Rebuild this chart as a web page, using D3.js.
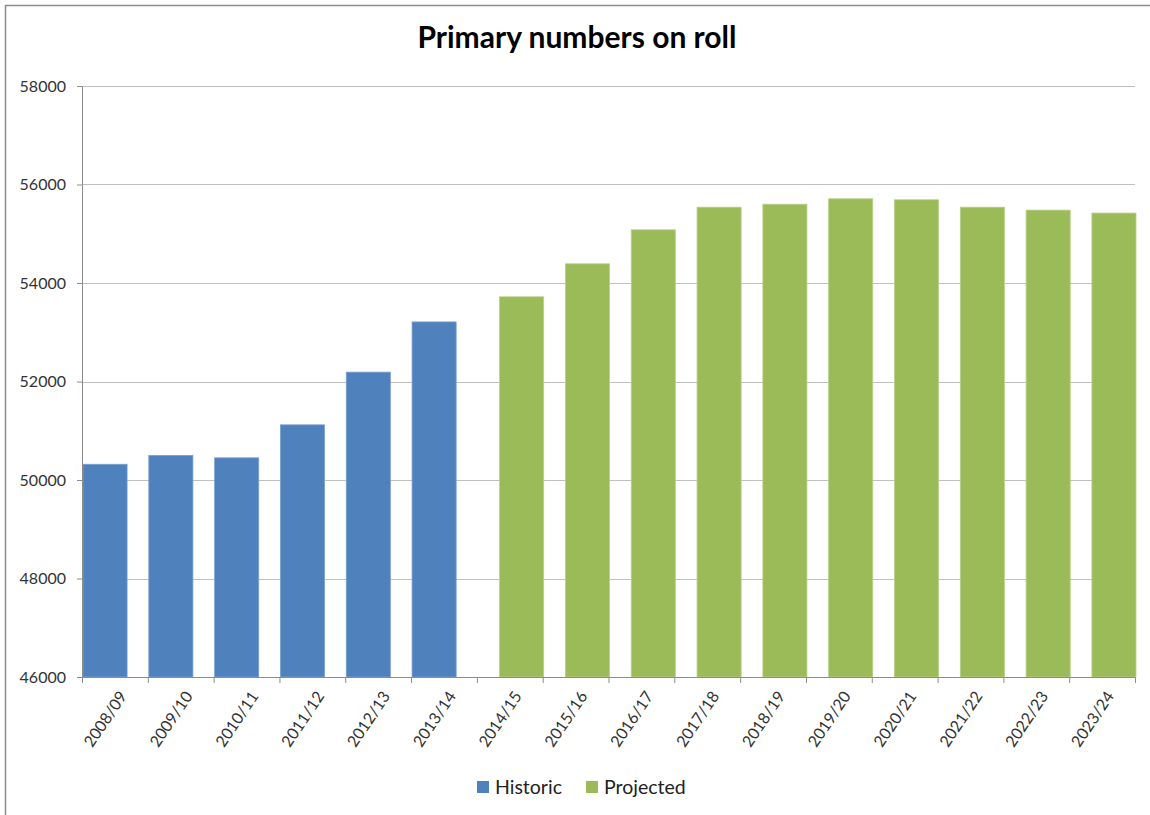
<!DOCTYPE html>
<html>
<head>
<meta charset="utf-8">
<script src="https://cdn.jsdelivr.net/npm/d3@7"></script>
<style>
  body { margin: 0; background: #fff; }
  text { font-family: Lato, "Open Sans", sans-serif; fill: #333; }
</style>
</head>
<body>
<div id="chart"></div>
<script>
// data
var years = ["2008/09", "2009/10", "2010/11", "2011/12", "2012/13", "2013/14",
  "2014/15", "2015/16", "2016/17", "2017/18", "2018/19", "2019/20",
  "2020/21", "2021/22", "2022/23", "2023/24"];
var historic = [50320, 50500, 50450, 51120, 52190, 53210,
  null, null, null, null, null, null, null, null, null, null];
var projected = [null, null, null, null, null, null,
  53720, 54390, 55080, 55540, 55600, 55710, 55690, 55540, 55480, 55420];
var yTicks = [46000, 48000, 50000, 52000, 54000, 56000, 58000];
var seriesNames = ["Historic", "Projected"];
var colors = ["#4f81bd", "#9bbb59"];

var width = 1150, height = 815;
var margin = { top: 86, right: 15, bottom: 138, left: 82 };
var innerWidth = width - margin.left - margin.right;
var innerHeight = height - margin.top - margin.bottom;

var svg = d3.select("#chart").append("svg")
  .attr("width", width)
  .attr("height", height);

// outer frame (only left and top visible in the crop)
svg.append("path")
  .attr("d", "M5.5,815 L5.5,5.5 L1150,5.5")
  .attr("fill", "none")
  .attr("stroke", "#8c8c8c")
  .attr("stroke-width", 1.5);

svg.append("text")
  .attr("x", 577)
  .attr("y", 48)
  .attr("text-anchor", "middle")
  .attr("font-size", 30)
  .attr("font-weight", "bold")
  .style("fill", "#000")
  .text("Primary numbers on roll");

var g = svg.append("g")
  .attr("transform", "translate(" + margin.left + "," + margin.top + ")");

// category bands, and the two series clustered (overlapping) inside each band
var x = d3.scaleBand().domain(years).range([0, innerWidth]).padding(0);
var barW = x.step() * 0.67;
var x1 = d3.scalePoint().domain(seriesNames).range([0, x.step() - barW]);
var y = d3.scaleLinear().domain([46000, 58000]).range([innerHeight, 0]);

// gridlines
g.append("g")
  .selectAll("line")
  .data(yTicks.slice(1))
  .join("line")
  .attr("x1", 0)
  .attr("x2", innerWidth)
  .attr("y1", function (d) { return Math.round(y(d)) + 0.5; })
  .attr("y2", function (d) { return Math.round(y(d)) + 0.5; })
  .attr("stroke", "#c0c0c0")
  .attr("stroke-width", 1.2);

// bars
var bars = [];
years.forEach(function (yr, i) {
  if (historic[i] != null) bars.push({ year: yr, value: historic[i], s: 0 });
  if (projected[i] != null) bars.push({ year: yr, value: projected[i], s: 1 });
});

g.append("g")
  .selectAll("rect")
  .data(bars)
  .join("rect")
  .attr("x", function (d) { return x(d.year) + x1(seriesNames[d.s]) + 1; })
  .attr("y", function (d) { return y(d.value); })
  .attr("width", barW)
  .attr("height", function (d) { return innerHeight - y(d.value); })
  .attr("fill", function (d) { return colors[d.s]; })
  .attr("stroke", function (d) { return d.s == 0 ? "#7aa0d0" : "#b8d08a"; })
  .attr("stroke-width", 0.8);

// y axis
var yAxis = g.append("g")
  .call(d3.axisLeft(y).tickValues(yTicks).tickSize(5).tickPadding(11).tickFormat(d3.format("d")));
yAxis.select(".domain").attr("stroke", "#8c8c8c").attr("d", "M-5,0.5H0.5V" + innerHeight);
yAxis.selectAll(".tick line").attr("stroke", "#8c8c8c");
yAxis.selectAll(".tick text").attr("font-size", 16).style("fill", "#333");

// x axis: ticks on band boundaries
var step = x.step();
var xAxis = g.append("g").attr("transform", "translate(0," + innerHeight + ")");
xAxis.append("line")
  .attr("x1", 0).attr("x2", innerWidth)
  .attr("y1", 0.5).attr("y2", 0.5)
  .attr("stroke", "#8c8c8c");
xAxis.selectAll("line.tk")
  .data(d3.range(years.length + 1))
  .join("line")
  .attr("class", "tk")
  .attr("x1", function (i) { return i * step + 0.5; })
  .attr("x2", function (i) { return i * step + 0.5; })
  .attr("y1", 0).attr("y2", 6)
  .attr("stroke", "#8c8c8c");
xAxis.selectAll("text")
  .data(years)
  .join("text")
  .attr("transform", function (d) {
    return "translate(" + (x(d) + step / 2 + 8) + ",16) rotate(-56)";
  })
  .attr("text-anchor", "end")
  .attr("dy", "0.35em")
  .attr("font-size", 16)
  .style("fill", "#333")
  .text(function (d) { return d; });

// legend
var legend = svg.append("g").attr("transform", "translate(0,787)");
var legendX = [477, 586];
seriesNames.forEach(function (name, i) {
  legend.append("rect")
    .attr("x", legendX[i])
    .attr("y", -6)
    .attr("width", 12)
    .attr("height", 12)
    .attr("fill", colors[i]);
  legend.append("text")
    .attr("x", legendX[i] + 18)
    .attr("y", 0)
    .attr("dy", "0.35em")
    .attr("font-size", 19.5)
    .style("fill", "#222")
    .text(name);
});
</script>
</body>
</html>
